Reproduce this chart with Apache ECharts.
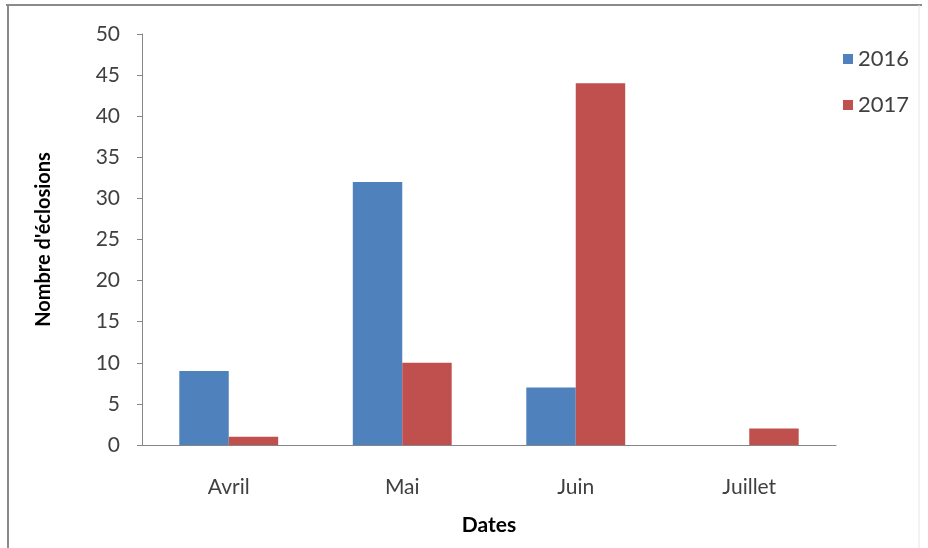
<!DOCTYPE html>
<html><head><meta charset="utf-8">
<script src="https://cdn.jsdelivr.net/npm/echarts@6/dist/echarts.min.js"></script>
<style>html,body{margin:0;padding:0;background:#fff}#c{width:928px;height:548px}</style>
</head><body><div id="c"></div>
<script>
const categories = ['Avril', 'Mai', 'Juin', 'Juillet'];
const seriesNames = ['2016', '2017'];
const values2016 = [9, 32, 7, null];
const values2017 = [1, 10, 44, 2];
const yTicks = [0, 5, 10, 15, 20, 25, 30, 35, 40, 45, 50];

const font = "Lato, 'Open Sans', sans-serif";
const chart = echarts.init(document.getElementById('c'));
chart.setOption({
  animation: false,
  backgroundColor: '#fff',
  graphic: [
    {type: 'line', shape: {x1: 6, y1: 5, x2: 922, y2: 5}, style: {stroke: '#8a8a8a', lineWidth: 2}},
    {type: 'line', shape: {x1: 8, y1: 5, x2: 8, y2: 548}, style: {stroke: '#8a8a8a', lineWidth: 2}},
    {type: 'line', shape: {x1: 919, y1: 5, x2: 919, y2: 548}, style: {stroke: '#e6e6e6', lineWidth: 1}}
  ],
  legend: {
    orient: 'vertical', left: 838, top: 43, itemWidth: 10, itemHeight: 10, itemGap: 24,
    icon: 'rect',
    textStyle: {fontFamily: font, fontSize: 22, color: '#404040'},
    data: seriesNames
  },
  grid: {left: 142, right: 92, top: 34, bottom: 103},
  xAxis: {
    type: 'category', data: categories,
    name: 'Dates', nameLocation: 'middle', nameGap: 70,
    nameTextStyle: {fontFamily: font, fontSize: 21, fontWeight: 'bold', color: '#000'},
    axisLine: {lineStyle: {color: '#868686'}},
    axisTick: {length: 6, lineStyle: {color: '#868686'}},
    axisLabel: {fontFamily: font, fontSize: 21, color: '#404040', margin: 32}
  },
  yAxis: {
    type: 'value', min: 0, max: 50, interval: 5,
    name: "Nombre d'éclosions", nameLocation: 'middle', nameGap: 88,
    nameTextStyle: {fontFamily: font, fontSize: 20, fontWeight: 'bold', color: '#000'},
    splitLine: {show: false},
    axisLine: {show: true, lineStyle: {color: '#868686'}},
    axisTick: {show: true, length: 5, lineStyle: {color: '#868686'}},
    axisLabel: {fontFamily: font, fontSize: 21, color: '#404040', margin: 22,
      formatter: v => yTicks.includes(v) ? String(v) : ''}
  },
  series: [
    {name: seriesNames[0], type: 'bar', data: values2016, barGap: '0%', barCategoryGap: '43%',
     itemStyle: {color: '#4F81BD'}},
    {name: seriesNames[1], type: 'bar', data: values2017, barGap: '0%', barCategoryGap: '43%',
     itemStyle: {color: '#C0504D'}}
  ]
});
</script></body></html>
